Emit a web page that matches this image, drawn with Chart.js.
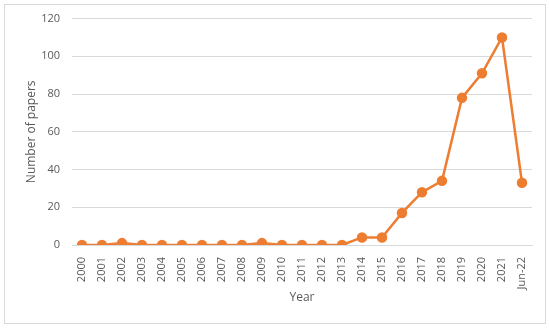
<!DOCTYPE html>
<html>
<head>
<meta charset="utf-8">
<script src="https://cdn.jsdelivr.net/npm/chart.js@4"></script>
<style>
  html, body { margin: 0; padding: 0; background: #fff; }
  #wrap { width: 550px; height: 328px; position: relative; }
</style>
</head>
<body>
<div id="wrap"><canvas id="papers"></canvas></div>
<script>
const years = ['2000', '2001', '2002', '2003', '2004', '2005', '2006', '2007', '2008', '2009', '2010',
  '2011', '2012', '2013', '2014', '2015', '2016', '2017', '2018', '2019', '2020', '2021', 'Jun-22'];
const papers = [0, 0, 1, 0, 0, 0, 0, 0, 0, 1, 0, 0, 0, 0, 4, 4, 17, 28, 34, 78, 91, 110, 33];
const yTicks = [0, 20, 40, 60, 80, 100, 120];

const textColor = '#595959';
const fontFamily = "'Open Sans', 'Liberation Sans', sans-serif";

// thin frame round the whole chart, like the office chart border
const frame = {
  id: 'frame',
  beforeDraw(chart) {
    const c = chart.ctx;
    c.save();
    c.strokeStyle = '#d9d9d9';
    c.lineWidth = 1;
    c.strokeRect(4.5, 4.5, 541, 319);
    c.restore();
  }
};

new Chart(document.getElementById('papers'), {
  type: 'line',
  data: {
    labels: years,
    datasets: [{
      data: papers,
      borderColor: '#ED7D31',
      backgroundColor: '#ED7D31',
      borderWidth: 2.5,
      pointRadius: 4,
      pointHoverRadius: 4,
      tension: 0
    }]
  },
  options: {
    responsive: true,
    maintainAspectRatio: false,
    animation: false,
    layout: { padding: { left: 20, right: 18, top: 13, bottom: 19 } },
    plugins: {
      legend: { display: false },
      tooltip: { enabled: false }
    },
    scales: {
      x: {
        offset: true,
        grid: { display: false },
        border: { color: '#d9d9d9' },
        ticks: {
          color: textColor,
          font: { family: fontFamily, size: 11 },
          minRotation: 90,
          maxRotation: 90,
          autoSkip: false,
          padding: 4
        },
        title: {
          display: true,
          text: 'Year',
          color: textColor,
          font: { family: fontFamily, size: 12 }
        },
        afterFit(axis) { axis.height = 64; }
      },
      y: {
        min: 0,
        max: 120,
        afterBuildTicks(axis) { axis.ticks = yTicks.map(v => ({ value: v })); },
        grid: { color: '#d9d9d9', drawTicks: false },
        border: { display: false },
        ticks: {
          color: textColor,
          font: { family: fontFamily, size: 11 },
          padding: 12
        },
        title: {
          display: true,
          text: 'Number of papers',
          color: textColor,
          font: { family: fontFamily, size: 12 }
        },
        afterFit(axis) { axis.width = 52; }
      }
    }
  },
  plugins: [frame]
});
</script>
</body>
</html>
